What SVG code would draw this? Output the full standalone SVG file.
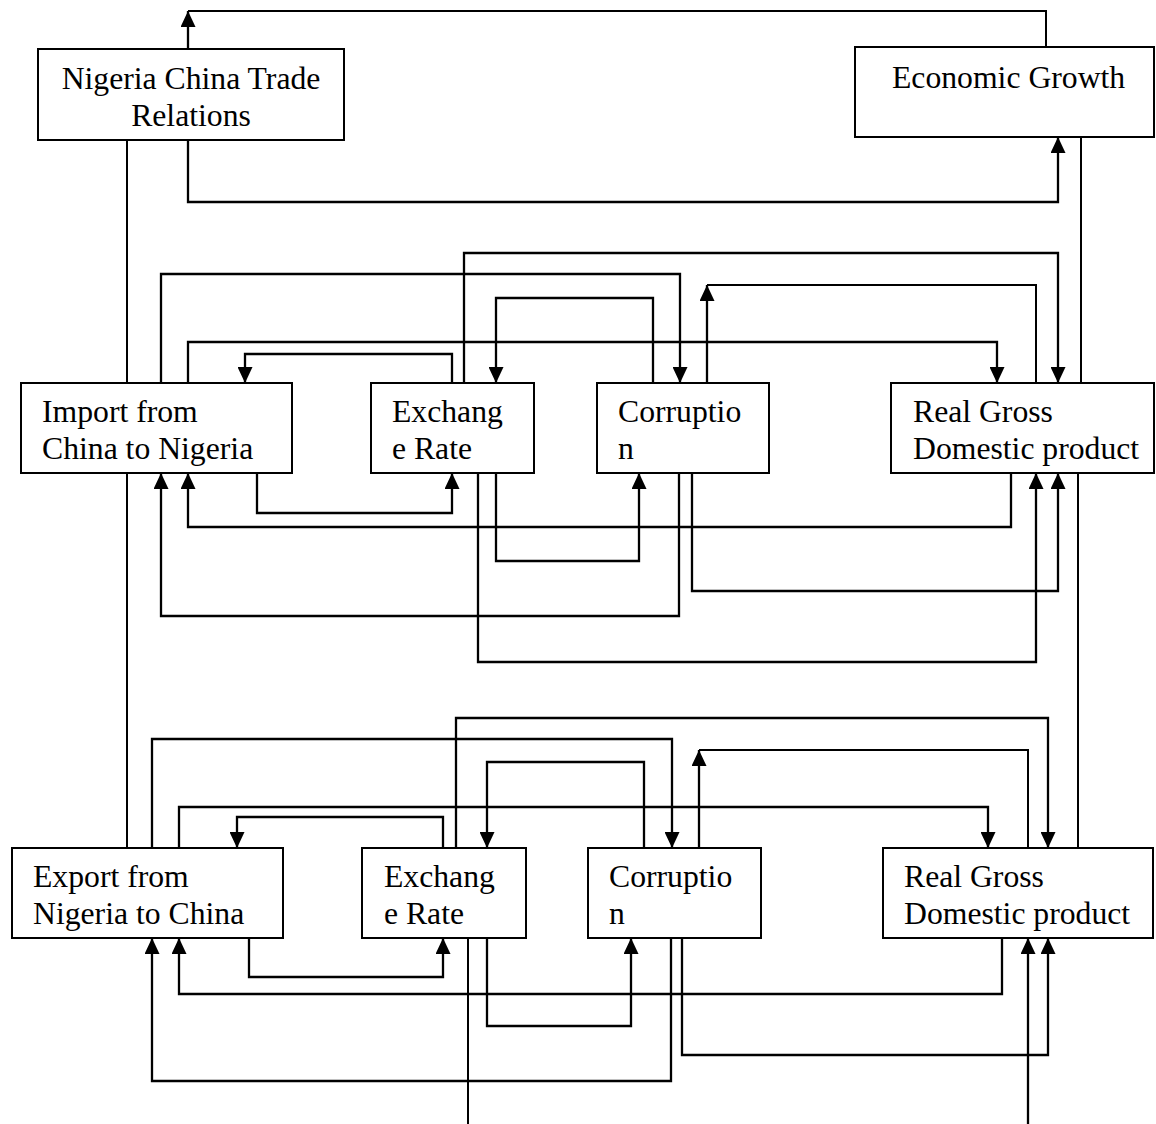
<svg xmlns="http://www.w3.org/2000/svg" width="1156" height="1124" viewBox="0 0 1156 1124">
<style>
.box{fill:#fff;stroke:#000;stroke-width:2}
.t{font-family:"Liberation Serif","Times New Roman",serif;font-size:31.7px;fill:#000}
.c{fill:none;stroke:#000;stroke-width:2}
.a{fill:none;stroke:#000;stroke-width:2.3;marker-end:url(#ah)}
</style>
<defs>
<marker id="ah" markerWidth="16" markerHeight="15" refX="16" refY="7.5" orient="auto" markerUnits="userSpaceOnUse"><path d="M0,0 L16,7.5 L0,15 z" fill="#000"/></marker>
</defs>
<rect width="1156" height="1124" fill="#fff"/>
<g id="connectors">
<path class="a" d="M188,49 V11"/>
<path class="c" d="M188,11 H1046 V47"/>
<path class="a" d="M188,140 V202 H1058 V137"/>
<path class="c" d="M127,140 V383 M127,473 V848"/>
<path class="c" d="M1081,137 V383 M1078,473 V848"/>
<path class="a" d="M161,383 V274 H680 V383"/>
<path class="a" d="M188,383 V342 H997 V383"/>
<path class="a" d="M452,383 V354 H245 V383"/>
<path class="a" d="M464,383 V253 H1058 V383"/>
<path class="a" d="M653,383 V298 H496 V383"/>
<path class="a" d="M707,383 V285"/>
<path class="c" d="M707,285 H1036 V383"/>
<path class="a" d="M679,473 V616 H161 V473"/>
<path class="a" d="M1011,473 V527 H188 V473"/>
<path class="a" d="M257,473 V513 H452 V473"/>
<path class="a" d="M478,473 V662 H1036 V473"/>
<path class="a" d="M496,473 V561 H639 V473"/>
<path class="a" d="M692,473 V591 H1058 V473"/>
<path class="a" d="M152,848 V739 H672 V848"/>
<path class="a" d="M179,848 V807 H988 V848"/>
<path class="a" d="M443,848 V817 H237 V848"/>
<path class="a" d="M456,848 V718 H1048 V848"/>
<path class="a" d="M644,848 V762 H487 V848"/>
<path class="a" d="M699,848 V750"/>
<path class="c" d="M699,750 H1028 V848"/>
<path class="a" d="M671,938 V1081 H152 V938"/>
<path class="a" d="M1002,938 V994 H179 V938"/>
<path class="a" d="M249,938 V977 H443 V938"/>
<path class="c" d="M468,938 V1124"/>
<path class="a" d="M487,938 V1026 H631 V938"/>
<path class="a" d="M682,938 V1055 H1048 V938"/>
<path class="a" d="M1028,1124 V938"/>
</g>
<g id="trade">
<rect class="box" x="38" y="49" width="306" height="91"/>
<text class="t" x="191" y="89" text-anchor="middle">Nigeria China Trade</text>
<text class="t" x="191" y="126" text-anchor="middle">Relations</text>
</g>
<g id="growth">
<rect class="box" x="855" y="47" width="299" height="90"/>
<text class="t" x="892" y="88">Economic Growth</text>
</g>
<g id="import">
<rect class="box" x="21" y="383" width="271" height="90"/>
<text class="t" x="42" y="422">Import from</text>
<text class="t" x="42" y="459">China to Nigeria</text>
</g>
<g id="exchange1">
<rect class="box" x="371" y="383" width="163" height="90"/>
<text class="t" x="392" y="422">Exchang</text>
<text class="t" x="392" y="459">e Rate</text>
</g>
<g id="corruption1">
<rect class="box" x="597" y="383" width="172" height="90"/>
<text class="t" x="618" y="422">Corruptio</text>
<text class="t" x="618" y="459">n</text>
</g>
<g id="rgdp1">
<rect class="box" x="891" y="383" width="263" height="90"/>
<text class="t" x="913" y="422">Real Gross</text>
<text class="t" x="913" y="459">Domestic product</text>
</g>
<g id="export">
<rect class="box" x="12" y="848" width="271" height="90"/>
<text class="t" x="33" y="887">Export from</text>
<text class="t" x="33" y="924">Nigeria to China</text>
</g>
<g id="exchange2">
<rect class="box" x="362" y="848" width="164" height="90"/>
<text class="t" x="384" y="887">Exchang</text>
<text class="t" x="384" y="924">e Rate</text>
</g>
<g id="corruption2">
<rect class="box" x="588" y="848" width="173" height="90"/>
<text class="t" x="609" y="887">Corruptio</text>
<text class="t" x="609" y="924">n</text>
</g>
<g id="rgdp2">
<rect class="box" x="883" y="848" width="270" height="90"/>
<text class="t" x="904" y="887">Real Gross</text>
<text class="t" x="904" y="924">Domestic product</text>
</g>
</svg>
